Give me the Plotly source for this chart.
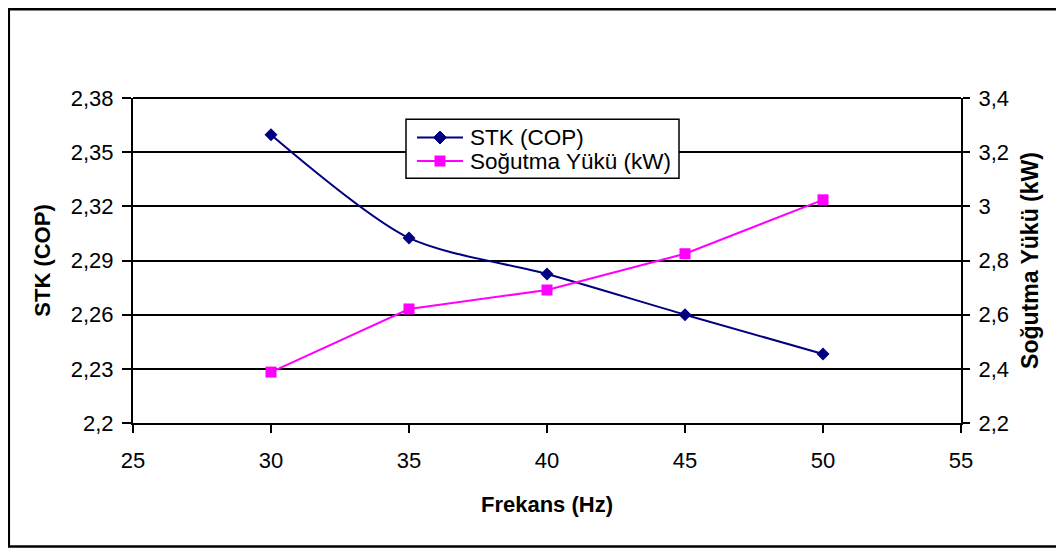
import plotly.graph_objects as go

frekans = [30, 35, 40, 45, 50]
stk = [2.3597, 2.3025, 2.2825, 2.2600, 2.2382]
sogutma = [2.388, 2.621, 2.691, 2.825, 3.024]
series_names = ["STK (COP)", "Soğutma Yükü (kW)"]

FONT = "Arial, Liberation Sans, sans-serif"
NAVY = "#000080"
MAGENTA = "#FF00FF"

# plot area in window pixels (page has an 8px body margin)
PL, PR, PT, PB = 133, 961, 98, 423
PW, PH = PR - PL, PB - PT


def px(xw):
    return (xw - PL) / PW


def py(yw):
    return (PB - yw) / PH


fig = go.Figure()
fig.add_trace(go.Scatter(
    x=frekans, y=stk, name=series_names[0], mode="lines+markers",
    line=dict(color=NAVY, width=2, shape="spline", smoothing=0.8),
    marker=dict(symbol="diamond", size=10, color=NAVY),
    yaxis="y", showlegend=False))
fig.add_trace(go.Scatter(
    x=frekans, y=sogutma, name=series_names[1], mode="lines+markers",
    line=dict(color=MAGENTA, width=2),
    marker=dict(symbol="square", size=11, color=MAGENTA),
    yaxis="y2", showlegend=False))

shapes = [
    # outer chart border
    dict(type="rect", xref="paper", yref="paper",
         x0=px(8.8), x1=px(1075), y0=py(546.5), y1=py(9.3),
         line=dict(color="black", width=2.5), layer="below"),
    # top line of plot area
    dict(type="line", xref="paper", yref="paper", x0=0, x1=1, y0=1, y1=1,
         line=dict(color="black", width=2)),
    # legend box
    dict(type="rect", xref="paper", yref="paper",
         x0=px(406), x1=px(679), y0=py(178.3), y1=py(119.3),
         line=dict(color="black", width=1.5), fillcolor="white", layer="above"),
]
annotations = []
rows = [137.5, 161.0]
colors = [NAVY, MAGENTA]
for i, (yy, col, name) in enumerate(zip(rows, colors, series_names)):
    shapes.append(dict(type="line", xref="paper", yref="paper",
                       x0=px(417), x1=px(463), y0=py(yy), y1=py(yy),
                       line=dict(color=col, width=2), layer="above"))
    cx, cy = 440, yy
    if i == 0:
        h = 6.5
        path = (f"M {px(cx - h)} {py(cy)} L {px(cx)} {py(cy - h)} "
                f"L {px(cx + h)} {py(cy)} L {px(cx)} {py(cy + h)} Z")
        shapes.append(dict(type="path", xref="paper", yref="paper", path=path,
                           fillcolor=col, line=dict(color=col, width=1), layer="above"))
    else:
        h = 5.5
        shapes.append(dict(type="rect", xref="paper", yref="paper",
                           x0=px(cx - h), x1=px(cx + h), y0=py(cy + h), y1=py(cy - h),
                           fillcolor=col, line=dict(color=col, width=0), layer="above"))
    annotations.append(dict(xref="paper", yref="paper", x=px(468), y=py(yy),
                            xanchor="left", yanchor="middle", showarrow=False,
                            text=name, font=dict(family=FONT, size=22.5, color="black")))

fig.update_layout(
    width=1056, height=542,
    margin=dict(l=PL - 8, r=1056 - (PR - 8), t=PT - 8, b=542 - (PB - 8), autoexpand=False),
    paper_bgcolor="white", plot_bgcolor="white",
    separators=", ",
    font=dict(family=FONT, size=22, color="black"),
    showlegend=False,
    xaxis=dict(range=[25, 55], dtick=5, tick0=25, showgrid=False,
               showline=True, linecolor="black", linewidth=2,
               ticks="outside", ticklen=8, tickwidth=2, tickcolor="black",
               ticklabelstandoff=9, zeroline=False,
               title=dict(text="<b>Frekans (Hz)</b>", standoff=24, font=dict(size=22))),
    yaxis=dict(range=[2.2, 2.38], dtick=0.03, tick0=2.2, showgrid=True,
               gridcolor="black", gridwidth=2,
               showline=True, linecolor="black", linewidth=2,
               ticks="outside", ticklen=9, tickwidth=2, tickcolor="black",
               ticklabelstandoff=4, zeroline=False,
               title=dict(text="<b>STK (COP)</b>", standoff=14, font=dict(size=22))),
    yaxis2=dict(range=[2.2, 3.4], dtick=0.2, tick0=2.2, overlaying="y", side="right",
                showgrid=False, showline=True, linecolor="black", linewidth=2,
                ticks="outside", ticklen=7, tickwidth=2, tickcolor="black",
                ticklabelstandoff=4, zeroline=False,
                title=dict(text="<b>Soğutma Yükü (kW)</b>", standoff=14, font=dict(size=23))),
    shapes=shapes,
    annotations=annotations,
)

fig.write_html("out.html")
